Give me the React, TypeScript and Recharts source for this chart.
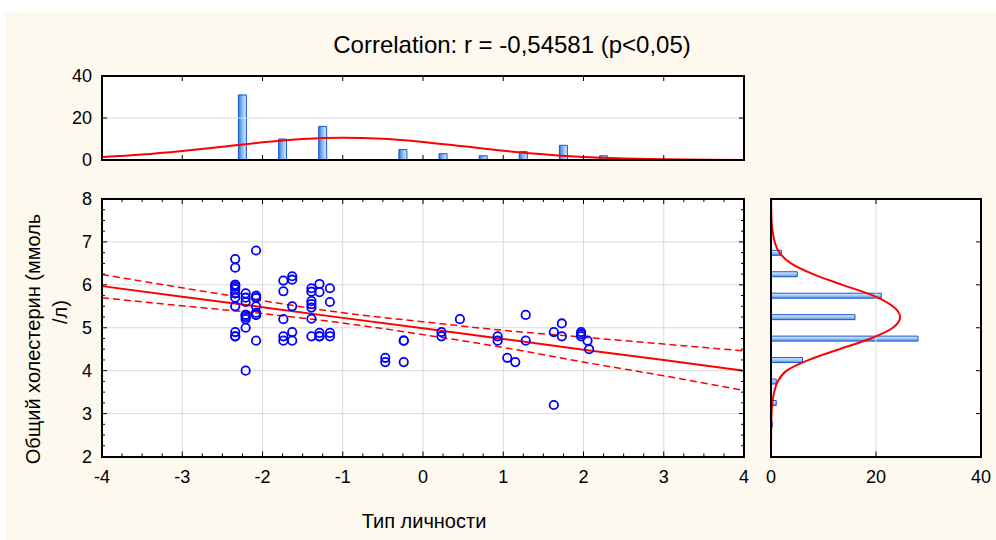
import React from 'react';
import { ComposedChart, XAxis, YAxis, Bar, Line, Scatter, ReferenceLine } from 'recharts';

const FONT = '"Liberation Sans", Arial, Helvetica, sans-serif';

// ---------- data ----------
// top histogram: Тип личности
const topBinCenters = [-2.25, -1.75, -1.25, -0.25, 0.25, 0.75, 1.25, 1.75, 2.25];
const topBinCounts = [31, 10, 16, 5, 3, 2, 4, 7, 2];
const topCurveX = [-4, -3.5, -3, -2.5, -2, -1.5, -1, -0.5, 0, 0.5, 1, 1.5, 2, 2.5, 3, 3.5, 4];
const topCurveV = [1.4, 2.6, 4.3, 6.3, 8.4, 10.0, 10.6, 10.1, 8.6, 6.5, 4.4, 2.7, 1.4, 0.7, 0.3, 0.1, 0.03];

// right histogram: Общий холестерин
const sideBinCenters = [6.75, 6.25, 5.75, 5.25, 4.75, 4.25, 3.75, 3.25, 2.75];
const sideBinCounts = [2, 5, 21, 16, 28, 6, 1, 1, 0.25];
const sideCurveY = [2, 2.5, 3, 3.25, 3.5, 3.75, 4, 4.25, 4.5, 4.75, 5, 5.25, 5.5, 5.75, 6, 6.25, 6.5, 6.75, 7, 7.25, 7.5, 8];
const sideCurveV = [0, 0.02, 0.1, 0.25, 0.6, 1.3, 3.0, 7.2, 13.0, 19.0, 23.2, 24.6, 23.2, 19.5, 13.6, 8.0, 3.8, 1.6, 0.7, 0.3, 0.1, 0.02];

// scatter points
const pointsX = [
  -2.34, -2.34, -2.34, -2.34, -2.34, -2.34, -2.34, -2.34, -2.34, -2.34,
  -2.21, -2.21, -2.21, -2.21, -2.21, -2.21, -2.21, -2.21,
  -2.08, -2.08, -2.08, -2.08, -2.08, -2.08, -2.08,
  -2.34, -2.34, -2.21, -2.08, -2.08, -2.34,
  -1.74, -1.74, -1.74, -1.74, -1.74, -1.63, -1.63, -1.63, -1.63, -1.63,
  -1.39, -1.39, -1.39, -1.39, -1.39, -1.39, -1.39, -1.29, -1.29, -1.29, -1.29,
  -1.16, -1.16, -1.16, -1.16, -1.29,
  -0.47, -0.47, -0.24, -0.24, -0.24, 0.23, 0.23, 0.46, 0.93, 0.93,
  1.05, 1.15, 1.28, 1.28, 1.63, 1.63, 1.73, 1.73, 1.97, 1.97, 1.97, 2.05, 2.07,
];
const pointsY = [
  6.6, 6.4, 6.0, 5.95, 5.9, 5.8, 5.7, 5.5, 4.9, 4.8,
  5.8, 5.7, 5.6, 5.3, 5.2, 5.0, 4.0, 5.25,
  6.8, 5.75, 5.7, 5.5, 5.35, 5.3, 4.7,
  5.8, 4.8, 5.3, 5.7, 5.3, 6.0,
  6.1, 5.85, 5.2, 4.8, 4.7, 6.2, 6.12, 5.5, 4.9, 4.7,
  5.92, 5.84, 5.62, 5.55, 5.47, 5.21, 4.8, 6.02, 5.83, 4.88, 4.8,
  5.92, 5.6, 4.88, 4.8, 4.8,
  4.3, 4.2, 4.7, 4.7, 4.2, 4.9, 4.8, 5.2, 4.8, 4.7,
  4.3, 4.2, 5.3, 4.7, 4.9, 3.2, 5.1, 4.8, 4.9, 4.8, 4.85, 4.7, 4.5,
];

// regression line and 95% bands
const fitX = [-4, -3, -2, -1, 0, 1, 2, 3, 4];
const fitMid = [5.97, 5.72, 5.48, 5.23, 4.99, 4.74, 4.49, 4.25, 4.0];
const fitUpper = [6.24, 5.93, 5.63, 5.35, 5.14, 4.94, 4.78, 4.62, 4.46];
const fitLower = [5.7, 5.51, 5.33, 5.11, 4.84, 4.54, 4.2, 3.88, 3.54];

// ticks
const xMajorTicks = [-4, -3, -2, -1, 0, 1, 2, 3, 4];
const yMajorTicks = [2, 3, 4, 5, 6, 7, 8];
const countTicks = [0, 20, 40];
const quarterSteps = (a: number, b: number) => {
  const r: number[] = [];
  for (let v = a * 4; v <= b * 4; v++) r.push(v / 4);
  return r;
};
const xAllTicks = quarterSteps(-4, 4);
const yAllTicks = quarterSteps(2, 8);

// ---------- tables ----------
const topBars = topBinCenters.map((x, i) => ({ x, count: topBinCounts[i] }));
const topCurve = topCurveX.map((x, i) => ({ x, v: topCurveV[i] }));
const sideBars = sideBinCenters.map((y, i) => ({ y, count: sideBinCounts[i] }));
const sideCurve = sideCurveY.map((y, i) => ({ y, v: sideCurveV[i] }));
const points = pointsX.map((x, i) => ({ x, y: pointsY[i] }));
const fitRows = fitX.map((x, i) => ({ x, mid: fitMid[i], up: fitUpper[i], lo: fitLower[i] }));

// ---------- layout ----------
const W = 996;
const H = 540;
const MAIN = { left: 102, right: 744, top: 199, bottom: 456.5 };
const TOP = { left: 102, right: 744, top: 76, bottom: 160 };
const SIDE = { left: 771, right: 981, top: 199, bottom: 456.5 };
const LABEL_Y = 477;
const TICK_FS = 18;
const GRID = '#dadada';

const labelStyle = { fontFamily: FONT, fontSize: TICK_FS, fill: '#000' } as const;

const MainXTick = (props: any) => {
  const { x, payload } = props;
  const v = payload.value as number;
  const major = xMajorTicks.includes(v);
  const len = major ? 5 : 3;
  return (
    <g>
      <line x1={x} x2={x} y1={MAIN.bottom} y2={MAIN.bottom - len} stroke="#000" />
      <line x1={x} x2={x} y1={MAIN.top} y2={MAIN.top + len} stroke="#000" />
      {major && (
        <text x={x} y={LABEL_Y} textAnchor="middle" dominantBaseline="central" {...labelStyle}>
          {String(v)}
        </text>
      )}
    </g>
  );
};

const MainYTick = (props: any) => {
  const { y, payload } = props;
  const v = payload.value as number;
  const major = yMajorTicks.includes(v);
  const len = major ? 5 : 3;
  return (
    <g>
      <line x1={MAIN.left} x2={MAIN.left + len} y1={y} y2={y} stroke="#000" />
      <line x1={MAIN.right} x2={MAIN.right - len} y1={y} y2={y} stroke="#000" />
      {major && (
        <text x={92} y={y} textAnchor="end" dominantBaseline="central" {...labelStyle}>
          {String(v)}
        </text>
      )}
    </g>
  );
};

const TopXTick = (props: any) => {
  const { x } = props;
  return (
    <g>
      <line x1={x} x2={x} y1={TOP.bottom} y2={TOP.bottom - 5} stroke="#000" />
      <line x1={x} x2={x} y1={TOP.top} y2={TOP.top + 5} stroke="#000" />
    </g>
  );
};

const TopYTick = (props: any) => {
  const { y, payload } = props;
  return (
    <g>
      <line x1={TOP.left} x2={TOP.left + 5} y1={y} y2={y} stroke="#000" />
      <line x1={TOP.right} x2={TOP.right - 5} y1={y} y2={y} stroke="#000" />
      <text x={92} y={y} textAnchor="end" dominantBaseline="central" {...labelStyle}>
        {String(payload.value)}
      </text>
    </g>
  );
};

const SideXTick = (props: any) => {
  const { x, payload } = props;
  return (
    <g>
      <line x1={x} x2={x} y1={SIDE.bottom} y2={SIDE.bottom - 5} stroke="#000" />
      <line x1={x} x2={x} y1={SIDE.top} y2={SIDE.top + 5} stroke="#000" />
      <text x={x} y={LABEL_Y} textAnchor="middle" dominantBaseline="central" {...labelStyle}>
        {String(payload.value)}
      </text>
    </g>
  );
};

const SideYTick = (props: any) => {
  const { y } = props;
  return (
    <g>
      <line x1={SIDE.right} x2={SIDE.right - 5} y1={y} y2={y} stroke="#000" />
    </g>
  );
};

const Ring = (props: any) => {
  const { cx, cy } = props;
  if (cx == null || cy == null) return <g />;
  return <circle cx={cx} cy={cy} r={4.2} fill="none" stroke="#0000ff" strokeWidth={1.8} />;
};

const box = (r: { left: number; right: number; top: number; bottom: number }, extra: React.CSSProperties) => ({
  position: 'absolute' as const,
  left: r.left - 1,
  top: r.top - 1,
  width: r.right - r.left + 2,
  height: r.bottom - r.top + 2,
  boxSizing: 'border-box' as const,
  ...extra,
});

const layer: React.CSSProperties = { position: 'absolute', left: 0, top: 0 };

export default function App() {
  return (
    <div style={{ position: 'absolute', left: 0, top: 0, width: W, height: H, background: '#ffffff', overflow: 'hidden', fontFamily: FONT }}>
      <div style={{ position: 'absolute', left: 5, top: 12, right: 0, bottom: 0, background: '#FDF9EE' }} />
      {/* plot backgrounds */}
      <div style={box(TOP, { background: '#fff' })} />
      <div style={box(MAIN, { background: '#fff' })} />
      <div style={box(SIDE, { background: '#fff' })} />

      <svg width={0} height={0} style={{ position: 'absolute' }}>
        <defs>
          <linearGradient id="gradTop" x1="0" y1="0" x2="1" y2="0">
            <stop offset="0%" stopColor="#2a7be0" />
            <stop offset="45%" stopColor="#86b8f0" />
            <stop offset="100%" stopColor="#dcebfc" />
          </linearGradient>
          <linearGradient id="gradSide" x1="0" y1="0" x2="0" y2="1">
            <stop offset="0%" stopColor="#e2effd" />
            <stop offset="55%" stopColor="#9cc4f3" />
            <stop offset="100%" stopColor="#4a8fe6" />
          </linearGradient>
        </defs>
      </svg>

      {/* top histogram */}
      <div style={layer}>
        <ComposedChart width={W} height={H} data={topBars} margin={{ top: TOP.top, left: 0, right: W - TOP.right, bottom: 0 }}>
          <XAxis
            type="number"
            dataKey="x"
            domain={[-4, 4]}
            ticks={xMajorTicks}
            interval={0}
            height={H - TOP.bottom}
            axisLine={false}
            tickLine={false}
            tickSize={0}
            tick={<TopXTick />}
          />
          <YAxis
            type="number"
            domain={[0, 40]}
            ticks={countTicks}
            interval={0}
            width={TOP.left}
            axisLine={false}
            tickLine={false}
            tickSize={0}
            tick={<TopYTick />}
          />
          <ReferenceLine y={20} stroke={GRID} strokeWidth={1} />
          <Bar dataKey="count" barSize={8} fill="url(#gradTop)" stroke="#1858cc" strokeWidth={1} isAnimationActive={false} />
          <Line data={topCurve} dataKey="v" type="monotone" stroke="#ff0000" strokeWidth={2} dot={false} activeDot={false} isAnimationActive={false} />
        </ComposedChart>
      </div>

      {/* main scatter */}
      <div style={layer}>
        <ComposedChart width={W} height={H} margin={{ top: MAIN.top, left: 0, right: W - MAIN.right, bottom: 0 }}>
          <XAxis
            type="number"
            dataKey="x"
            domain={[-4, 4]}
            ticks={xAllTicks}
            interval={0}
            height={H - MAIN.bottom}
            axisLine={false}
            tickLine={false}
            tickSize={0}
            tick={<MainXTick />}
          />
          <YAxis
            type="number"
            domain={[2, 8]}
            ticks={yAllTicks}
            interval={0}
            width={MAIN.left}
            axisLine={false}
            tickLine={false}
            tickSize={0}
            tick={<MainYTick />}
          />
          {xMajorTicks.slice(1, -1).map((v) => (
            <ReferenceLine key={'gx' + v} x={v} stroke={GRID} strokeWidth={1} />
          ))}
          {yMajorTicks.slice(1, -1).map((v) => (
            <ReferenceLine key={'gy' + v} y={v} stroke={GRID} strokeWidth={1} />
          ))}
          <Line data={fitRows} dataKey="up" type="monotone" stroke="#ff0000" strokeWidth={1.5} strokeDasharray="7 4" dot={false} activeDot={false} isAnimationActive={false} />
          <Line data={fitRows} dataKey="lo" type="monotone" stroke="#ff0000" strokeWidth={1.5} strokeDasharray="7 4" dot={false} activeDot={false} isAnimationActive={false} />
          <Scatter data={points} dataKey="y" shape={<Ring />} isAnimationActive={false} />
          <Line data={fitRows} dataKey="mid" type="linear" stroke="#ff0000" strokeWidth={2} dot={false} activeDot={false} isAnimationActive={false} />
        </ComposedChart>
      </div>

      {/* side histogram */}
      <div style={layer}>
        <ComposedChart width={W} height={H} layout="vertical" data={sideBars} margin={{ top: SIDE.top, left: 0, right: W - SIDE.right, bottom: 0 }}>
          <XAxis
            type="number"
            domain={[0, 40]}
            ticks={countTicks}
            interval={0}
            height={H - SIDE.bottom}
            axisLine={false}
            tickLine={false}
            tickSize={0}
            tick={<SideXTick />}
          />
          <YAxis
            type="number"
            dataKey="y"
            domain={[2, 8]}
            ticks={yMajorTicks}
            interval={0}
            reversed
            width={SIDE.left}
            axisLine={false}
            tickLine={false}
            tickSize={0}
            tick={<SideYTick />}
          />
          <ReferenceLine x={20} stroke={GRID} strokeWidth={1} />
          <Bar dataKey="count" barSize={5} fill="url(#gradSide)" stroke="#1858cc" strokeWidth={1} isAnimationActive={false} />
          <Line data={sideCurve} dataKey="v" type="monotone" stroke="#ff0000" strokeWidth={2} dot={false} activeDot={false} isAnimationActive={false} />
        </ComposedChart>
      </div>

      {/* frames */}
      <div style={box(TOP, { border: '2px solid #000', pointerEvents: 'none' })} />
      <div style={box(MAIN, { border: '2px solid #000', pointerEvents: 'none' })} />
      <div style={box(SIDE, { border: '2px solid #000', pointerEvents: 'none' })} />

      {/* titles */}
      <svg width={W} height={H} style={{ position: 'absolute', left: 0, top: 0, pointerEvents: 'none' }}>
        <text x={512} y={44} textAnchor="middle" dominantBaseline="central" fontFamily={FONT} fontSize={24} fill="#000">
          Correlation: r = -0,54581 (p&lt;0,05)
        </text>
        <text x={424} y={521} textAnchor="middle" dominantBaseline="central" fontFamily={FONT} fontSize={20} fill="#000">
          Тип личности
        </text>
        <text transform="translate(33,339) rotate(-90)" textAnchor="middle" dominantBaseline="central" fontFamily={FONT} fontSize={20} fill="#000">
          Общий холестерин (ммоль
        </text>
        <text transform="translate(60,312) rotate(-90)" textAnchor="middle" dominantBaseline="central" fontFamily={FONT} fontSize={20} fill="#000">
          /л)
        </text>
      </svg>
    </div>
  );
}
